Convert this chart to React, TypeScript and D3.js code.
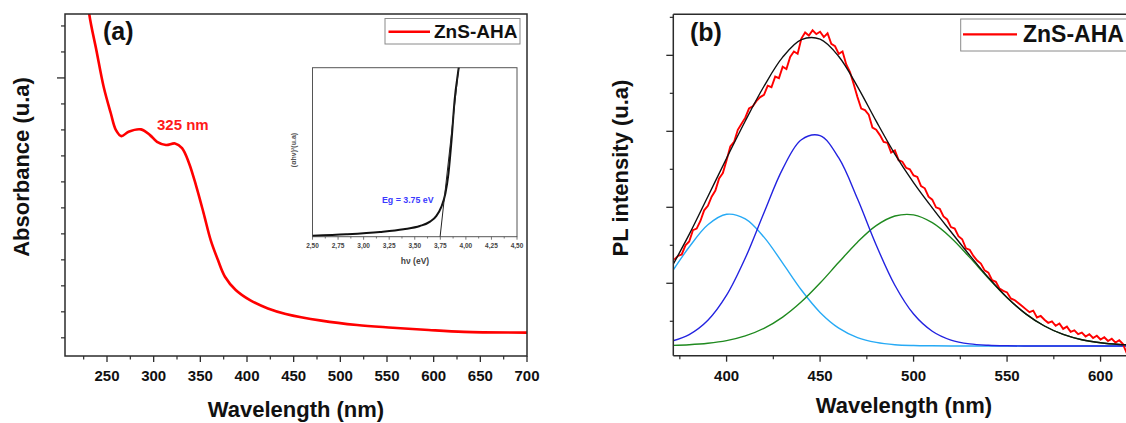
import React from "react";
import * as d3 from "d3";

// ---------- Panel (a): UV-Vis absorbance ----------
const absWavelength = [226, 231, 238.6, 246.4, 254, 259.6, 265.4, 273.1, 286.4, 296.1, 303.6, 313.2, 322.9, 330.4, 337.9, 345.8, 353.5, 361.1, 368.8, 376.4, 387.9, 403.2, 422.4, 441.5, 479.7, 517.9, 556.3, 594.6, 632.5, 700];
const absValue = [2.42, 2.245, 2.107, 1.966, 1.865, 1.799, 1.776, 1.793, 1.802, 1.78, 1.754, 1.742, 1.748, 1.73, 1.672, 1.581, 1.48, 1.376, 1.3, 1.235, 1.184, 1.145, 1.113, 1.092, 1.066, 1.049, 1.039, 1.03, 1.023, 1.02];
const aXTicks = [250, 300, 350, 400, 450, 500, 550, 600, 650, 700];
const aXMinor = [225, 275, 325, 375, 425, 475, 525, 575, 625, 675];
const aYMajor = [2.0];
const aYMinor = [1.0, 1.1, 1.2, 1.3, 1.4, 1.5, 1.6, 1.7, 1.8, 1.9, 2.1, 2.2];

// Inset: Tauc plot
const tauHv = [2.5, 2.83, 3.16, 3.39, 3.55, 3.65, 3.71, 3.76, 3.8, 3.83, 3.86, 3.89, 3.93, 3.95];
const tauValue = [0.005, 0.014, 0.028, 0.044, 0.063, 0.089, 0.122, 0.177, 0.257, 0.375, 0.572, 0.809, 1.0, 1.1];
const tangentHv = [3.748, 3.93];
const tangentValue = [0, 1.0];
const insetTicks = [2.5, 2.75, 3.0, 3.25, 3.5, 3.75, 4.0, 4.25, 4.5];
const insetMinor = [2.625, 2.875, 3.125, 3.375, 3.625, 3.875, 4.125, 4.375];

// ---------- Panel (b): PL spectrum + Gaussian deconvolution ----------
const fitWavelength = [370, 380, 390, 400, 410, 420, 430, 440, 450, 460, 470, 480, 490, 500, 510, 520, 530, 540, 550, 560, 570, 580, 590, 600, 610, 620];
const peakCyan = [1.12, 1.477, 1.77, 1.908, 1.847, 1.607, 1.265, 0.911, 0.617, 0.41, 0.286, 0.222, 0.192, 0.181, 0.177, 0.175, 0.175, 0.175, 0.175, 0.175, 0.175, 0.175, 0.175, 0.175, 0.175, 0.175];
const peakBlue = [0.233, 0.325, 0.513, 0.843, 1.332, 1.929, 2.506, 2.889, 2.943, 2.649, 2.112, 1.504, 0.974, 0.595, 0.369, 0.253, 0.203, 0.184, 0.177, 0.175, 0.175, 0.175, 0.175, 0.175, 0.175, 0.175];
const peakGreen = [0.182, 0.191, 0.21, 0.245, 0.307, 0.407, 0.555, 0.756, 1.003, 1.276, 1.541, 1.758, 1.885, 1.9, 1.797, 1.6, 1.341, 1.067, 0.811, 0.598, 0.438, 0.327, 0.257, 0.217, 0.195, 0.185];
const fitSum = [1.185, 1.643, 2.143, 2.646, 3.136, 3.593, 3.976, 4.206, 4.213, 3.985, 3.589, 3.134, 2.701, 2.326, 1.993, 1.678, 1.369, 1.076, 0.813, 0.598, 0.438, 0.327, 0.257, 0.217, 0.195, 0.185];

const plWavelength = [372, 374, 376, 378, 380, 382, 384, 386, 388, 390, 392, 394, 396, 398, 400, 402, 404, 406, 408, 410, 412, 414, 416, 418, 420, 422, 424, 426, 428, 430, 432, 434, 436, 438, 440, 442, 444, 446, 448, 450, 452, 454, 456, 458, 460, 462, 464, 466, 468, 470, 472, 474, 476, 478, 480, 482, 484, 486, 488, 490, 492, 494, 496, 498, 500, 502, 504, 506, 508, 510, 512, 514, 516, 518, 520, 522, 524, 526, 528, 530, 532, 534, 536, 538, 540, 542, 544, 546, 548, 550, 552, 554, 556, 558, 560, 562, 564, 566, 568, 570, 572, 574, 576, 578, 580, 582, 584, 586, 588, 590, 592, 594, 596, 598, 600, 602, 604, 606, 608, 610, 612, 614];
const plIntensity = [1.31, 1.36, 1.38, 1.5, 1.55, 1.7, 1.72, 1.82, 1.96, 2.02, 2.14, 2.22, 2.38, 2.45, 2.62, 2.8, 2.86, 3.02, 3.1, 3.18, 3.3, 3.33, 3.4, 3.45, 3.48, 3.6, 3.58, 3.72, 3.7, 3.85, 3.82, 3.98, 4.05, 4.02, 4.22, 4.3, 4.26, 4.33, 4.28, 4.31, 4.24, 4.29, 4.15, 4.12, 4.02, 4.05, 3.88, 3.78, 3.62, 3.45, 3.3, 3.28, 3.22, 3.05, 3.02, 2.95, 2.86, 2.85, 2.72, 2.75, 2.62, 2.6, 2.52, 2.5, 2.42, 2.4, 2.28, 2.25, 2.14, 2.1, 2.0, 1.98, 1.88, 1.84, 1.74, 1.72, 1.62, 1.58, 1.46, 1.44, 1.36, 1.3, 1.26, 1.17, 1.14, 1.04, 1.02, 0.93, 0.9, 0.88, 0.8, 0.78, 0.74, 0.7, 0.66, 0.62, 0.64, 0.55, 0.57, 0.52, 0.48, 0.5, 0.44, 0.47, 0.4, 0.43, 0.36, 0.38, 0.33, 0.35, 0.3, 0.33, 0.28, 0.31, 0.26, 0.29, 0.24, 0.27, 0.22, 0.25, 0.2, 0.08];
const bXTicks = [400, 450, 500, 550, 600];
const bXMinor = [375, 425, 475, 525, 575];
const bYMajor = [1, 2, 3, 4];
const bYMinor = [0.5, 1.5, 2.5, 3.5, 4.5];

const FONT = "Arial, 'Liberation Sans', Helvetica, sans-serif";
const AXIS = "#2b2b2b";

export default function App() {
  // Panel (a) geometry
  const A = { l: 65, r: 527, t: 14, b: 356 };
  const ax = d3.scaleLinear().domain([205, 700]).range([A.l, A.r]);
  const ay = d3.scaleLinear().domain([0.93, 2.246]).range([A.b, A.t]);
  const absLine = d3
    .line<number>()
    .x((_, i) => ax(absWavelength[i]))
    .y((d) => ay(d))
    .curve(d3.curveCatmullRom.alpha(0.5));

  // Inset geometry
  const I = { l: 312.5, r: 517, t: 67.7, b: 236.7 };
  const ix = d3.scaleLinear().domain([2.5, 4.5]).range([I.l, I.r]);
  const iy = d3.scaleLinear().domain([0, 1]).range([I.b, I.t]);
  const tauLine = d3
    .line<number>()
    .x((_, i) => ix(tauHv[i]))
    .y((d) => iy(d))
    .curve(d3.curveMonotoneX);
  const tanLine = d3
    .line<number>()
    .x((_, i) => ix(tangentHv[i]))
    .y((d) => iy(d));
  const fmtComma = (v: number) => d3.format(".2f")(v).replace(".", ",");

  // Panel (b) geometry
  const B = { l: 673.3, r: 1125.8, t: 14.3, b: 355.7 };
  const bx = d3.scaleLinear().domain([371.5, 613.5]).range([B.l, B.r]);
  const by = d3.scaleLinear().domain([0.047, 4.54]).range([B.b, B.t]);
  const fitLine = d3
    .line<number>()
    .x((_, i) => bx(fitWavelength[i]))
    .y((d) => by(d))
    .curve(d3.curveCatmullRom.alpha(0.5));
  const plLine = d3
    .line<number>()
    .x((_, i) => bx(plWavelength[i]))
    .y((d) => by(d));

  return (
    <svg
      width={1126}
      height={423}
      style={{ position: "absolute", left: 0, top: 0, background: "#fff" }}
      fontFamily={FONT}
    >
      <defs>
        <clipPath id="clipA">
          <rect x={A.l} y={A.t} width={A.r - A.l} height={A.b - A.t} />
        </clipPath>
        <clipPath id="clipI">
          <rect x={I.l} y={I.t} width={I.r - I.l} height={I.b - I.t} />
        </clipPath>
        <clipPath id="clipB">
          <rect x={B.l} y={B.t} width={1126 - B.l} height={B.b - B.t} />
        </clipPath>
      </defs>
      <rect x={0} y={0} width={1126} height={423} fill="#fff" />

      {/* ================= Panel (a) ================= */}
      <g>
        <path d={absLine(absValue) || ""} fill="none" stroke="#ff0000" strokeWidth={2.6} clipPath="url(#clipA)" />
        <rect x={A.l} y={A.t} width={A.r - A.l} height={A.b - A.t} fill="none" stroke={AXIS} strokeWidth={1.5} />
        {aXTicks.map((t) => (
          <g key={"ax" + t}>
            <line x1={ax(t)} x2={ax(t)} y1={A.b} y2={A.b + 6} stroke={AXIS} strokeWidth={1.3} />
            <text x={ax(t)} y={381} textAnchor="middle" fontSize={15} fontWeight="bold" fill="#111">
              {t}
            </text>
          </g>
        ))}
        {aXMinor.map((t) => (
          <line key={"axm" + t} x1={ax(t)} x2={ax(t)} y1={A.b} y2={A.b + 3.5} stroke={AXIS} strokeWidth={1.2} />
        ))}
        {aYMajor.map((t) => (
          <line key={"aym" + t} x1={A.l - 8} x2={A.l} y1={ay(t)} y2={ay(t)} stroke={AXIS} strokeWidth={1.3} />
        ))}
        {aYMinor.map((t) => (
          <line key={"ayn" + t} x1={A.l - 4} x2={A.l} y1={ay(t)} y2={ay(t)} stroke={AXIS} strokeWidth={1.2} />
        ))}
        <text x={103} y={40} fontSize={25} fontWeight="bold" fill="#111">(a)</text>
        <text x={157} y={130} fontSize={15} fontWeight="bold" fill="#ff1a1a">325 nm</text>
        <text x={296} y={417} textAnchor="middle" fontSize={22} fontWeight="bold" fill="#111">
          Wavelength (nm)
        </text>
        <text transform="translate(29,167) rotate(-90)" textAnchor="middle" fontSize={22} fontWeight="bold" fill="#111">
          Absorbance (u.a)
        </text>
        {/* legend */}
        <rect x={385} y={18.5} width={135} height={25.5} fill="#fff" stroke="#8a8a8a" strokeWidth={1} />
        <line x1={388.5} x2={430} y1={31.7} y2={31.7} stroke="#ff0000" strokeWidth={2.4} />
        <text x={434} y={38.3} fontSize={19} fontWeight="bold" fill="#111">ZnS-AHA</text>

        {/* inset */}
        <rect x={I.l} y={I.t} width={I.r - I.l} height={I.b - I.t} fill="#fff" stroke="#555" strokeWidth={1} />
        <path d={tauLine(tauValue) || ""} fill="none" stroke="#111" strokeWidth={2} clipPath="url(#clipI)" />
        <path d={tanLine(tangentValue) || ""} fill="none" stroke="#222" strokeWidth={1} clipPath="url(#clipI)" />
        {insetTicks.map((t) => (
          <g key={"it" + t}>
            <line x1={ix(t)} x2={ix(t)} y1={I.b} y2={I.b + 3} stroke="#555" strokeWidth={0.8} />
            <text x={ix(t)} y={248} textAnchor="middle" fontSize={6.5} fontWeight="bold" fill="#444">
              {fmtComma(t)}
            </text>
          </g>
        ))}
        {insetMinor.map((t) => (
          <line key={"itm" + t} x1={ix(t)} x2={ix(t)} y1={I.b} y2={I.b + 1.8} stroke="#555" strokeWidth={0.8} />
        ))}
        <text x={415} y={264} textAnchor="middle" fontSize={8.5} fontWeight="bold" fill="#444">hν (eV)</text>
        <text transform="translate(296,150) rotate(-90)" textAnchor="middle" fontSize={7} fontWeight="bold" fill="#555">
          (αhν)²(u.a)
        </text>
        <text x={382} y={203} fontSize={8.8} fontWeight="bold" fill="#3a3aff">Eg = 3.75 eV</text>
      </g>

      {/* ================= Panel (b) ================= */}
      <g>
        <g clipPath="url(#clipB)">
          <path d={fitLine(peakCyan) || ""} fill="none" stroke="#27aaf5" strokeWidth={1.4} />
          <path d={fitLine(peakGreen) || ""} fill="none" stroke="#1f8a1f" strokeWidth={1.4} />
          <path d={fitLine(peakBlue) || ""} fill="none" stroke="#2323e0" strokeWidth={1.4} />
          <path d={plLine(plIntensity) || ""} fill="none" stroke="#ff0000" strokeWidth={1.9} />
          <path d={fitLine(fitSum) || ""} fill="none" stroke="#111" strokeWidth={1.4} />
        </g>
        <line x1={B.l} x2={1130} y1={B.t} y2={B.t} stroke={AXIS} strokeWidth={1.5} />
        <line x1={B.l} x2={1130} y1={B.b} y2={B.b} stroke={AXIS} strokeWidth={1.5} />
        <line x1={B.l} x2={B.l} y1={B.t} y2={B.b} stroke={AXIS} strokeWidth={1.5} />
        {bXTicks.map((t) => (
          <g key={"bx" + t}>
            <line x1={bx(t)} x2={bx(t)} y1={B.b} y2={B.b + 6} stroke={AXIS} strokeWidth={1.3} />
            <text x={bx(t)} y={381} textAnchor="middle" fontSize={15} fontWeight="bold" fill="#111">
              {t}
            </text>
          </g>
        ))}
        {bXMinor.map((t) => (
          <line key={"bxm" + t} x1={bx(t)} x2={bx(t)} y1={B.b} y2={B.b + 3.5} stroke={AXIS} strokeWidth={1.2} />
        ))}
        {bYMajor.map((t) => (
          <line key={"bym" + t} x1={B.l - 7} x2={B.l} y1={by(t)} y2={by(t)} stroke={AXIS} strokeWidth={1.3} />
        ))}
        {bYMinor.map((t) => (
          <line key={"byn" + t} x1={B.l - 3.5} x2={B.l} y1={by(t)} y2={by(t)} stroke={AXIS} strokeWidth={1.2} />
        ))}
        <text x={690} y={41} fontSize={25} fontWeight="bold" fill="#111">(b)</text>
        <text x={904} y={413} textAnchor="middle" fontSize={22} fontWeight="bold" fill="#111">
          Wavelength (nm)
        </text>
        <text transform="translate(628,168) rotate(-90)" textAnchor="middle" fontSize={22} fontWeight="bold" fill="#111">
          PL intensity (u.a)
        </text>
        {/* legend */}
        <rect x={960.7} y={19} width={180} height={32} fill="#fff" stroke="#8a8a8a" strokeWidth={1} />
        <line x1={963} x2={1017} y1={34.3} y2={34.3} stroke="#ff0000" strokeWidth={2.2} />
        <text x={1023} y={41.7} fontSize={23} fontWeight="bold" fill="#111">ZnS-AHA</text>
      </g>
    </svg>
  );
}
